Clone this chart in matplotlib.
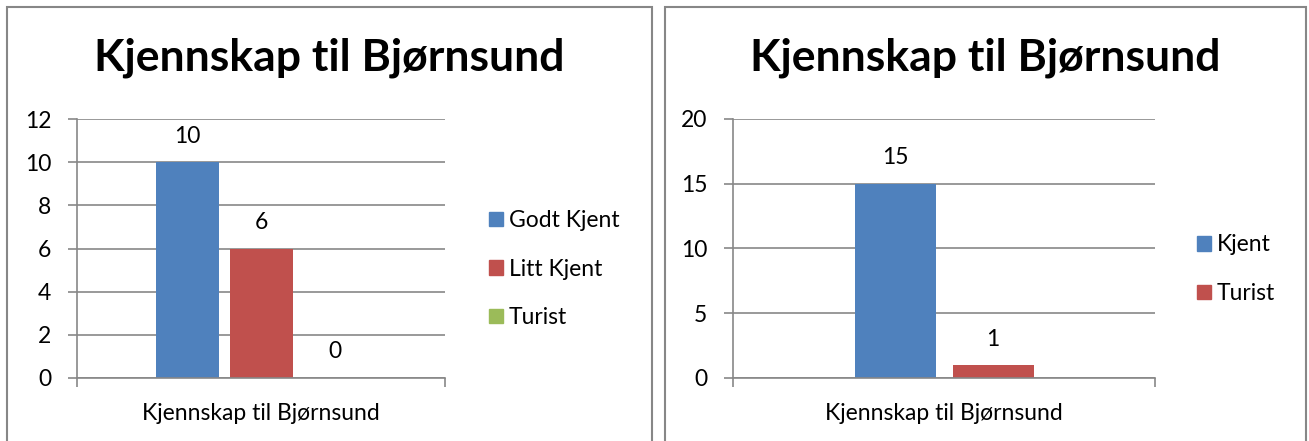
import matplotlib.pyplot as plt
from matplotlib.patches import Rectangle, Patch

plt.rcParams['font.family'] = ['Lato', 'DejaVu Sans']

# survey data
title = "Kjennskap til Bjørnsund"
category = ["Kjennskap til Bjørnsund"]

left_labels = ["Godt Kjent", "Litt Kjent", "Turist"]
left_values = [10, 6, 0]
left_colors = ["#4F81BD", "#C0504D", "#9BBB59"]
left_ticks = [0, 2, 4, 6, 8, 10, 12]

right_labels = ["Kjent", "Turist"]
right_values = [15, 1]
right_colors = ["#4F81BD", "#C0504D"]
right_ticks = [0, 5, 10, 15, 20]

GRID = "#878787"
FS = 16.5
W, H = 1309, 441

fig = plt.figure(figsize=(W / 100, H / 100), dpi=100)


def px_axes(x0, x1, top, bottom):
    return fig.add_axes([x0 / W, (H - bottom) / H, (x1 - x0) / W, (bottom - top) / H])


def bar_panel(ax, labels, values, colors, ticks, width, step):
    n = len(values)
    offsets = [(i - (n - 1) / 2) * step for i in range(n)]
    for off, v, c, lab in zip(offsets, values, colors, labels):
        ax.bar(off, v, width=width, color=c, label=lab, zorder=3)
        ax.annotate(str(v), (off, v), xytext=(0, 26), textcoords='offset pixels',
                    ha='center', va='center', fontsize=FS, color='black')
    ax.set_xlim(-0.5, 0.5)
    ax.set_ylim(ticks[0], ticks[-1])
    ax.set_yticks(ticks)
    ax.set_xticks([0])
    ax.set_xticklabels(category, fontsize=FS)
    ax.set_xticks([-0.5, 0.5], minor=True)
    ax.tick_params(axis='x', which='major', length=0, pad=18)
    ax.tick_params(axis='x', which='minor', length=6.5, width=1.2, color=GRID, direction='out')
    ax.tick_params(axis='y', length=6.5, width=1.2, color=GRID, direction='out', pad=12, labelsize=FS)
    ax.yaxis.grid(True, color=GRID, linewidth=1.2, zorder=0)
    ax.set_axisbelow(True)
    for s in ['top', 'right']:
        ax.spines[s].set_visible(False)
    for s in ['left', 'bottom']:
        ax.spines[s].set_color(GRID)
        ax.spines[s].set_linewidth(1.2)
        ax.spines[s].set_zorder(4)
    handles = [Patch(color=c, label=l) for c, l in zip(colors, labels)]
    return handles


legend_kw = dict(loc='center left', frameon=False, fontsize=FS, handlelength=0.61,
                 handleheight=0.61, handletextpad=0.25, labelspacing=1.2,
                 borderpad=0, borderaxespad=0)

# left chart
ax1 = px_axes(77, 445, 119, 378)
h1 = bar_panel(ax1, left_labels, left_values, left_colors, left_ticks, 63 / 368, 74 / 368)
ax1.legend(handles=h1, bbox_to_anchor=(1.12, 0.42), **legend_kw)

# right chart
ax2 = px_axes(733, 1155, 119, 378)
h2 = bar_panel(ax2, right_labels, right_values, right_colors, right_ticks, 81 / 422, 98 / 422)
ax2.legend(handles=h2, bbox_to_anchor=(1.10, 0.42), **legend_kw)

# chart frames and titles
for x0, x1 in [(7, 652), (665, 1306)]:
    fig.patches.append(Rectangle((x0 / W, -0.05), (x1 - x0) / W, (H - 7) / H + 0.05,
                                 transform=fig.transFigure, fill=False,
                                 edgecolor=GRID, linewidth=1.5))
    fig.text((x0 + x1) / 2 / W, (H - 58) / H, title, ha='center', va='center',
             fontsize=32, fontweight='bold')

fig.savefig("out.png", dpi=100)
